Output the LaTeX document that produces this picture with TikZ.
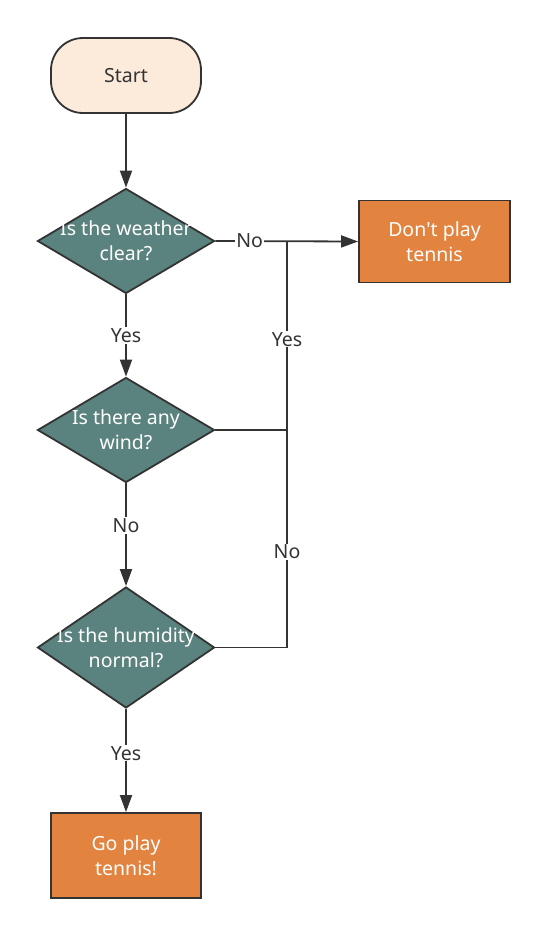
\documentclass[tikz,border=0pt]{standalone}
\usepackage{fontspec}
\setmainfont{Noto Sans}
\usetikzlibrary{shapes.geometric,arrows.meta}
\definecolor{startfill}{HTML}{FCEADB}
\definecolor{decfill}{HTML}{5A827E}
\definecolor{boxfill}{HTML}{E2843F}
\definecolor{linec}{HTML}{333333}
\tikzset{
  base/.style={draw=linec, line width=1.8pt, font=\fontsize{19.5}{25}\selectfont},
  startbox/.style={base, fill=startfill, rounded corners=32pt, minimum width=150pt, minimum height=75pt, text=linec},
  dec/.style={base, shape=diamond, fill=decfill, minimum width=177pt, minimum height=105pt, inner sep=0pt},
  dectext/.style={text=white, align=center, font=\fontsize{19.5}{25}\selectfont},
  actbox/.style={base, fill=boxfill, text=white, align=center, minimum width=151pt, minimum height=82pt},
  conn/.style={draw=linec, line width=1.8pt},
  arr/.style={conn, -{Triangle[length=17pt,width=12pt]}},
  lab/.style={fill=white, text=linec, inner sep=1pt, font=\fontsize{19.5}{25}\selectfont},
}
\begin{document}
\begin{tikzpicture}[x=1pt,y=-1pt]
\useasboundingbox (0,0) rectangle (547,935);
\fill[white] (0,0) rectangle (547,935);
\node[startbox] (start) at (126,75.5) {Start};
\node[dec, label={[dectext]center:Is the weather\\clear?}] (d1) at (126,241) {};
\node[dec, label={[dectext]center:Is there any\\wind?}] (d2) at (126,430) {};
\node[dec, minimum height=121pt, label={[dectext]center:Is the humidity\\normal?}] (d3) at (126,647.5) {};
\node[actbox] (dont) at (434.5,241.5) {Don\textquotesingle t play\\tennis};
\node[actbox, minimum width=150pt, minimum height=85pt] (go) at (126,855.5) {Go play\\tennis!};
\coordinate (j1) at (287,241);
\coordinate (j2) at (287,430);
\coordinate (j3) at (287,647.5);
\draw[arr] (start) -- (d1);
\draw[arr] (d1) -- node[lab]{Yes} (d2);
\draw[arr] (d2) -- node[lab, pos=0.41]{No} (d3);
\draw[arr] (d3) -- node[lab, pos=0.43]{Yes} (go);
\draw[arr] (d1.east) -- node[lab, pos=0.24]{No} (dont.west);
\draw[conn] (d2.east) -- (j2);
\draw[conn] (d3.east) -- (j3) -- node[lab, pos=0.44]{No} (j2) -- node[lab, pos=0.48]{Yes} (j1);
\end{tikzpicture}
\end{document}
